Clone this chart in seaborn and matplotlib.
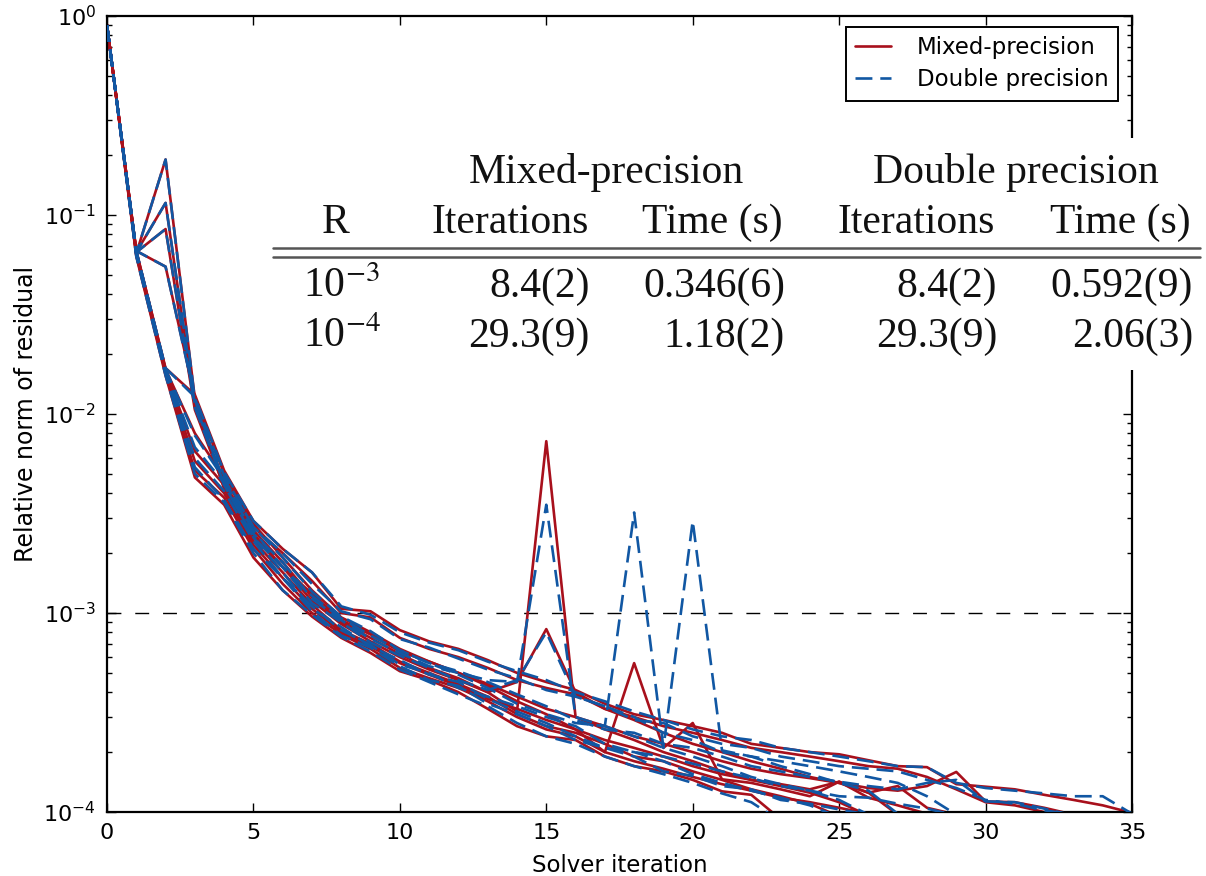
import numpy as np
import pandas as pd
import matplotlib
matplotlib.use("Agg")
import matplotlib.pyplot as plt
import seaborn as sns
from matplotlib.lines import Line2D
from matplotlib.patches import Rectangle
from matplotlib.ticker import LogLocator, NullFormatter

# ---------------- data ----------------
mixed_runs = [
    [0.9, 0.062, 0.0156, 0.0048, 0.0035, 0.0019, 0.0013, 0.00096, 0.00075, 0.00063, 0.00051, 0.00046, 0.00040, 0.00033, 0.00027, 0.00024, 0.00023, 0.00019, 0.00017, 0.00016, 0.000145, 0.000127, 0.000122, 0.000092],
    [0.9, 0.064, 0.19, 0.0120, 0.0042, 0.0023, 0.0016, 0.00110, 0.00082, 0.00070, 0.00057, 0.00050, 0.00044, 0.00038, 0.00031, 0.00027, 0.00025, 0.00022, 0.00019, 0.00018, 0.00016, 0.000145, 0.000130, 0.000120, 0.000110, 0.000095],
    [0.9, 0.065, 0.115, 0.0110, 0.0045, 0.0026, 0.0018, 0.00120, 0.00090, 0.00075, 0.00062, 0.00053, 0.00047, 0.00040, 0.00032, 0.0073, 0.00030, 0.00026, 0.00023, 0.00020, 0.00018, 0.00016, 0.000145, 0.000135, 0.000125, 0.000112, 0.000096],
    [0.9, 0.065, 0.085, 0.0105, 0.0043, 0.0024, 0.0017, 0.00115, 0.00088, 0.00072, 0.00060, 0.00052, 0.00046, 0.00040, 0.00045, 0.00083, 0.00040, 0.00033, 0.00029, 0.00025, 0.00022, 0.00020, 0.00018, 0.000165, 0.000150, 0.000140, 0.000125, 0.000097],
    [0.9, 0.066, 0.055, 0.0122, 0.0050, 0.0028, 0.0019, 0.00130, 0.00095, 0.00080, 0.00066, 0.00057, 0.00050, 0.00043, 0.00036, 0.00031, 0.00026, 0.00020, 0.00056, 0.00021, 0.00028, 0.000146, 0.000140, 0.000130, 0.000120, 0.000142, 0.000118, 0.000108, 0.000098],
    [0.9, 0.063, 0.0160, 0.0052, 0.0038, 0.0021, 0.0014, 0.00100, 0.00078, 0.00066, 0.00053, 0.00047, 0.00042, 0.00036, 0.00030, 0.00026, 0.00024, 0.00020, 0.00018, 0.000165, 0.000150, 0.000138, 0.000128, 0.000118, 0.000112, 0.000105, 0.000098],
    [0.9, 0.064, 0.0163, 0.0058, 0.0040, 0.0022, 0.0015, 0.00105, 0.00080, 0.00068, 0.00056, 0.00049, 0.00043, 0.00037, 0.00033, 0.00029, 0.00026, 0.00023, 0.00021, 0.00019, 0.00017, 0.000155, 0.000145, 0.000138, 0.000130, 0.000142, 0.000125, 0.000135, 0.000105, 0.000097],
    [0.9, 0.065, 0.0166, 0.0065, 0.0044, 0.0025, 0.0017, 0.00125, 0.00092, 0.00078, 0.00064, 0.00057, 0.00050, 0.00044, 0.00038, 0.00033, 0.00030, 0.00027, 0.00024, 0.00022, 0.00020, 0.00018, 0.000165, 0.000155, 0.000148, 0.000140, 0.000132, 0.000128, 0.000135, 0.000159, 0.000113, 0.000112, 0.000105, 0.000097],
    [0.9, 0.066, 0.0168, 0.0080, 0.0048, 0.0027, 0.0020, 0.00145, 0.00100, 0.00095, 0.00075, 0.00066, 0.00060, 0.00053, 0.00046, 0.00042, 0.00039, 0.00033, 0.00030, 0.00027, 0.00025, 0.00023, 0.00021, 0.00020, 0.00019, 0.00018, 0.00017, 0.000165, 0.000150, 0.000130, 0.000112, 0.000108, 0.000100, 0.000096],
    [0.9, 0.066, 0.0170, 0.0125, 0.0052, 0.0029, 0.0021, 0.0016, 0.00105, 0.00102, 0.00082, 0.00072, 0.00066, 0.00058, 0.00050, 0.00045, 0.00041, 0.00035, 0.00031, 0.00029, 0.00027, 0.00025, 0.00022, 0.00021, 0.00020, 0.000195, 0.000182, 0.000170, 0.000168, 0.000138, 0.000134, 0.000130, 0.000122, 0.000115, 0.000108, 0.000099],
]

double_runs = [
    [0.9, 0.062, 0.0156, 0.0050, 0.0036, 0.0020, 0.0013, 0.00098, 0.00076, 0.00064, 0.00052, 0.00045, 0.00039, 0.00034, 0.00028, 0.00024, 0.00022, 0.00019, 0.00017, 0.000155, 0.000140, 0.000124, 0.000112, 0.000090],
    [0.9, 0.064, 0.19, 0.0118, 0.0044, 0.0024, 0.0016, 0.00105, 0.00085, 0.00068, 0.00058, 0.00049, 0.00045, 0.00037, 0.00032, 0.00028, 0.00024, 0.00021, 0.00020, 0.00018, 0.000155, 0.000140, 0.000128, 0.000118, 0.000108, 0.000094],
    [0.9, 0.065, 0.115, 0.0112, 0.0046, 0.0025, 0.0018, 0.00118, 0.00092, 0.00074, 0.00063, 0.00054, 0.00050, 0.00046, 0.00045, 0.0035, 0.00030, 0.00027, 0.00024, 0.00021, 0.00019, 0.00017, 0.000150, 0.000138, 0.000128, 0.000115, 0.000097],
    [0.9, 0.065, 0.085, 0.0108, 0.0044, 0.0024, 0.0017, 0.00112, 0.00090, 0.00071, 0.00061, 0.00053, 0.00046, 0.00041, 0.00046, 0.00080, 0.00038, 0.00034, 0.00030, 0.00025, 0.00023, 0.00020, 0.00019, 0.000170, 0.000155, 0.000140, 0.000128, 0.000098],
    [0.9, 0.066, 0.055, 0.0120, 0.0049, 0.0027, 0.0019, 0.00128, 0.00096, 0.00081, 0.00065, 0.00056, 0.00049, 0.00042, 0.00035, 0.00031, 0.00028, 0.00027, 0.0032, 0.00021, 0.0029, 0.000204, 0.00019, 0.00018, 0.00017, 0.00016, 0.000150, 0.000140, 0.000120, 0.000097],
    [0.9, 0.063, 0.0160, 0.0054, 0.0037, 0.0021, 0.0015, 0.00102, 0.00077, 0.00067, 0.00054, 0.00046, 0.00043, 0.00035, 0.00031, 0.00027, 0.00023, 0.00021, 0.00019, 0.000160, 0.000152, 0.000135, 0.000130, 0.000115, 0.000110, 0.000103, 0.000097],
    [0.9, 0.064, 0.0163, 0.0060, 0.0041, 0.0023, 0.0015, 0.00108, 0.00082, 0.00069, 0.00055, 0.00050, 0.00042, 0.00038, 0.00034, 0.00030, 0.00027, 0.00022, 0.00020, 0.00019, 0.000175, 0.000160, 0.000148, 0.000135, 0.000128, 0.000120, 0.000118, 0.000110, 0.000104, 0.000096],
    [0.9, 0.065, 0.0166, 0.0068, 0.0045, 0.0026, 0.0017, 0.00122, 0.00094, 0.00077, 0.00065, 0.00056, 0.00051, 0.00045, 0.00039, 0.00034, 0.00029, 0.00026, 0.00025, 0.00022, 0.00021, 0.00019, 0.000170, 0.000160, 0.000150, 0.000142, 0.000135, 0.000130, 0.000140, 0.000145, 0.000113, 0.000112, 0.000104, 0.000096],
    [0.9, 0.066, 0.0168, 0.0078, 0.0047, 0.0027, 0.0020, 0.00140, 0.00102, 0.00093, 0.00074, 0.00067, 0.00059, 0.00052, 0.00047, 0.00041, 0.00038, 0.00034, 0.00029, 0.00028, 0.00024, 0.00022, 0.00021, 0.00019, 0.00018, 0.00017, 0.000165, 0.000160, 0.000145, 0.000132, 0.000115, 0.000110, 0.000102, 0.000097],
    [0.9, 0.066, 0.0170, 0.0122, 0.0051, 0.0029, 0.0021, 0.0016, 0.00108, 0.00098, 0.00080, 0.00071, 0.00065, 0.00057, 0.00051, 0.00046, 0.00040, 0.00036, 0.00032, 0.00029, 0.00026, 0.00024, 0.00023, 0.00021, 0.00020, 0.00019, 0.000180, 0.000170, 0.000168, 0.000140, 0.000132, 0.000128, 0.000124, 0.000120, 0.000120, 0.000098],
]

series_labels = ["Mixed-precision", "Double precision"]
tolerance_line = 1e-3

table_groups = ["Mixed-precision", "Double precision"]
table_columns = ["R", "Iterations", "Time (s)", "Iterations", "Time (s)"]
table_R = ["10$^{-3}$", "10$^{-4}$"]
table_mixed_iter = ["8.4(2)", "29.3(9)"]
table_mixed_time = ["0.346(6)", "1.18(2)"]
table_double_iter = ["8.4(2)", "29.3(9)"]
table_double_time = ["0.592(9)", "2.06(3)"]

# ---------------- build long-form frame ----------------
rows = []
for label, runs in zip(series_labels, [mixed_runs, double_runs]):
    for r, vals in enumerate(runs):
        for i, v in enumerate(vals):
            rows.append({"precision": label, "run": r, "iteration": i, "residual": v})
df = pd.DataFrame(rows)

# ---------------- style ----------------
sns.set_theme(style="white")
plt.rcParams.update({
    "font.family": ["DejaVu Sans"],
    "text.color": "black", "axes.labelcolor": "black",
    "xtick.labelcolor": "black", "ytick.labelcolor": "black",
    "xtick.direction": "in", "ytick.direction": "in",
    "xtick.top": True, "ytick.right": True,
    "xtick.bottom": True, "ytick.left": True,
    "xtick.major.size": 6.5, "ytick.major.size": 6.5,
    "xtick.minor.size": 3.5, "ytick.minor.size": 3.5,
    "xtick.major.width": 1.0, "ytick.major.width": 1.0,
    "ytick.minor.width": 1.0,
    "xtick.color": "black", "ytick.color": "black",
    "axes.edgecolor": "black", "axes.linewidth": 1.6,
    "xtick.labelsize": 16, "ytick.labelsize": 16,
})

RED = "#a8101c"
BLUE = "#1157a3"
LW = 1.9
DASH = (0, (6.4, 3.0))

W, H = 1206, 876
fig = plt.figure(figsize=(W / 100, H / 100), dpi=100)
ax = fig.add_axes([107 / W, 1 - 812 / H, (1132 - 107) / W, (812 - 16) / H])

ax.axhline(tolerance_line, color="black", lw=1.0, linestyle=(0, (10, 10)), zorder=1)

sns.lineplot(data=df[df.precision == series_labels[0]], x="iteration", y="residual",
             units="run", estimator=None, sort=False, color=RED, lw=LW,
             legend=False, ax=ax, zorder=2)
sns.lineplot(data=df[df.precision == series_labels[1]], x="iteration", y="residual",
             units="run", estimator=None, sort=False, color=BLUE, lw=LW,
             linestyle=DASH, legend=False, ax=ax, zorder=3)

ax.set_yscale("log")
ax.set_xlim(0, 35)
ax.set_ylim(1e-4, 1e0)
ax.set_xticks(range(0, 36, 5))
ax.yaxis.set_major_locator(LogLocator(base=10))
ax.yaxis.set_minor_locator(LogLocator(base=10, subs=np.arange(2, 10)))
ax.yaxis.set_minor_formatter(NullFormatter())
ax.tick_params(axis="both", which="both", direction="in", top=True, right=True)
ax.tick_params(axis="x", pad=8)
ax.tick_params(axis="y", pad=8)

ax.set_xlabel("Solver iteration", fontsize=16.5, labelpad=8)
ax.set_ylabel("Relative norm of residual", fontsize=17, labelpad=4)

handles = [Line2D([], [], color=RED, lw=LW),
           Line2D([], [], color=BLUE, lw=LW, linestyle=DASH)]
leg = ax.legend(handles, series_labels, loc="upper right",
                bbox_to_anchor=(1118 / W, 1 - 27 / H), bbox_transform=fig.transFigure,
                borderaxespad=0, frameon=True, fancybox=False, framealpha=1,
                edgecolor="black", fontsize=16.5, handlelength=1.55,
                handletextpad=1.15, labelspacing=0.4, borderpad=0.4)
leg.get_frame().set_linewidth(1.4)
for t in leg.get_texts():
    t.set_color("black")

# ---------------- inset table ----------------
def fx(px):
    return px / W

def fy(py):
    return 1 - py / H

fig.add_artist(Rectangle((fx(268), fy(370)), fx(1206) - fx(268), fy(138) - fy(370),
                         transform=fig.transFigure, facecolor="white",
                         edgecolor="none", zorder=10))
serif = ["Liberation Serif", "DejaVu Serif"]
tkw = dict(family=serif, fontsize=30, color="#111111", zorder=11,
           va="baseline", math_fontfamily="stix")

fig.text(fx(606), fy(183), table_groups[0], ha="center", **tkw)
fig.text(fx(1016), fy(183), table_groups[1], ha="center", **tkw)
col_centers = [336, 510, 712, 916, 1120]
for c, name in zip(col_centers, table_columns):
    fig.text(fx(c), fy(233), name, ha="center", **tkw)
for yy in (248, 257):
    fig.add_artist(Line2D([fx(273), fx(1200)], [fy(yy), fy(yy)],
                          transform=fig.transFigure, color="#555555", lw=1.8, zorder=11))
row_base = [297, 347]
for j in range(2):
    fig.text(fx(303), fy(row_base[j]), table_R[j], ha="left", **tkw)
    fig.text(fx(590), fy(row_base[j]), table_mixed_iter[j], ha="right", **tkw)
    fig.text(fx(785), fy(row_base[j]), table_mixed_time[j], ha="right", **tkw)
    fig.text(fx(997), fy(row_base[j]), table_double_iter[j], ha="right", **tkw)
    fig.text(fx(1193), fy(row_base[j]), table_double_time[j], ha="right", **tkw)

fig.savefig("out.png", dpi=100)
